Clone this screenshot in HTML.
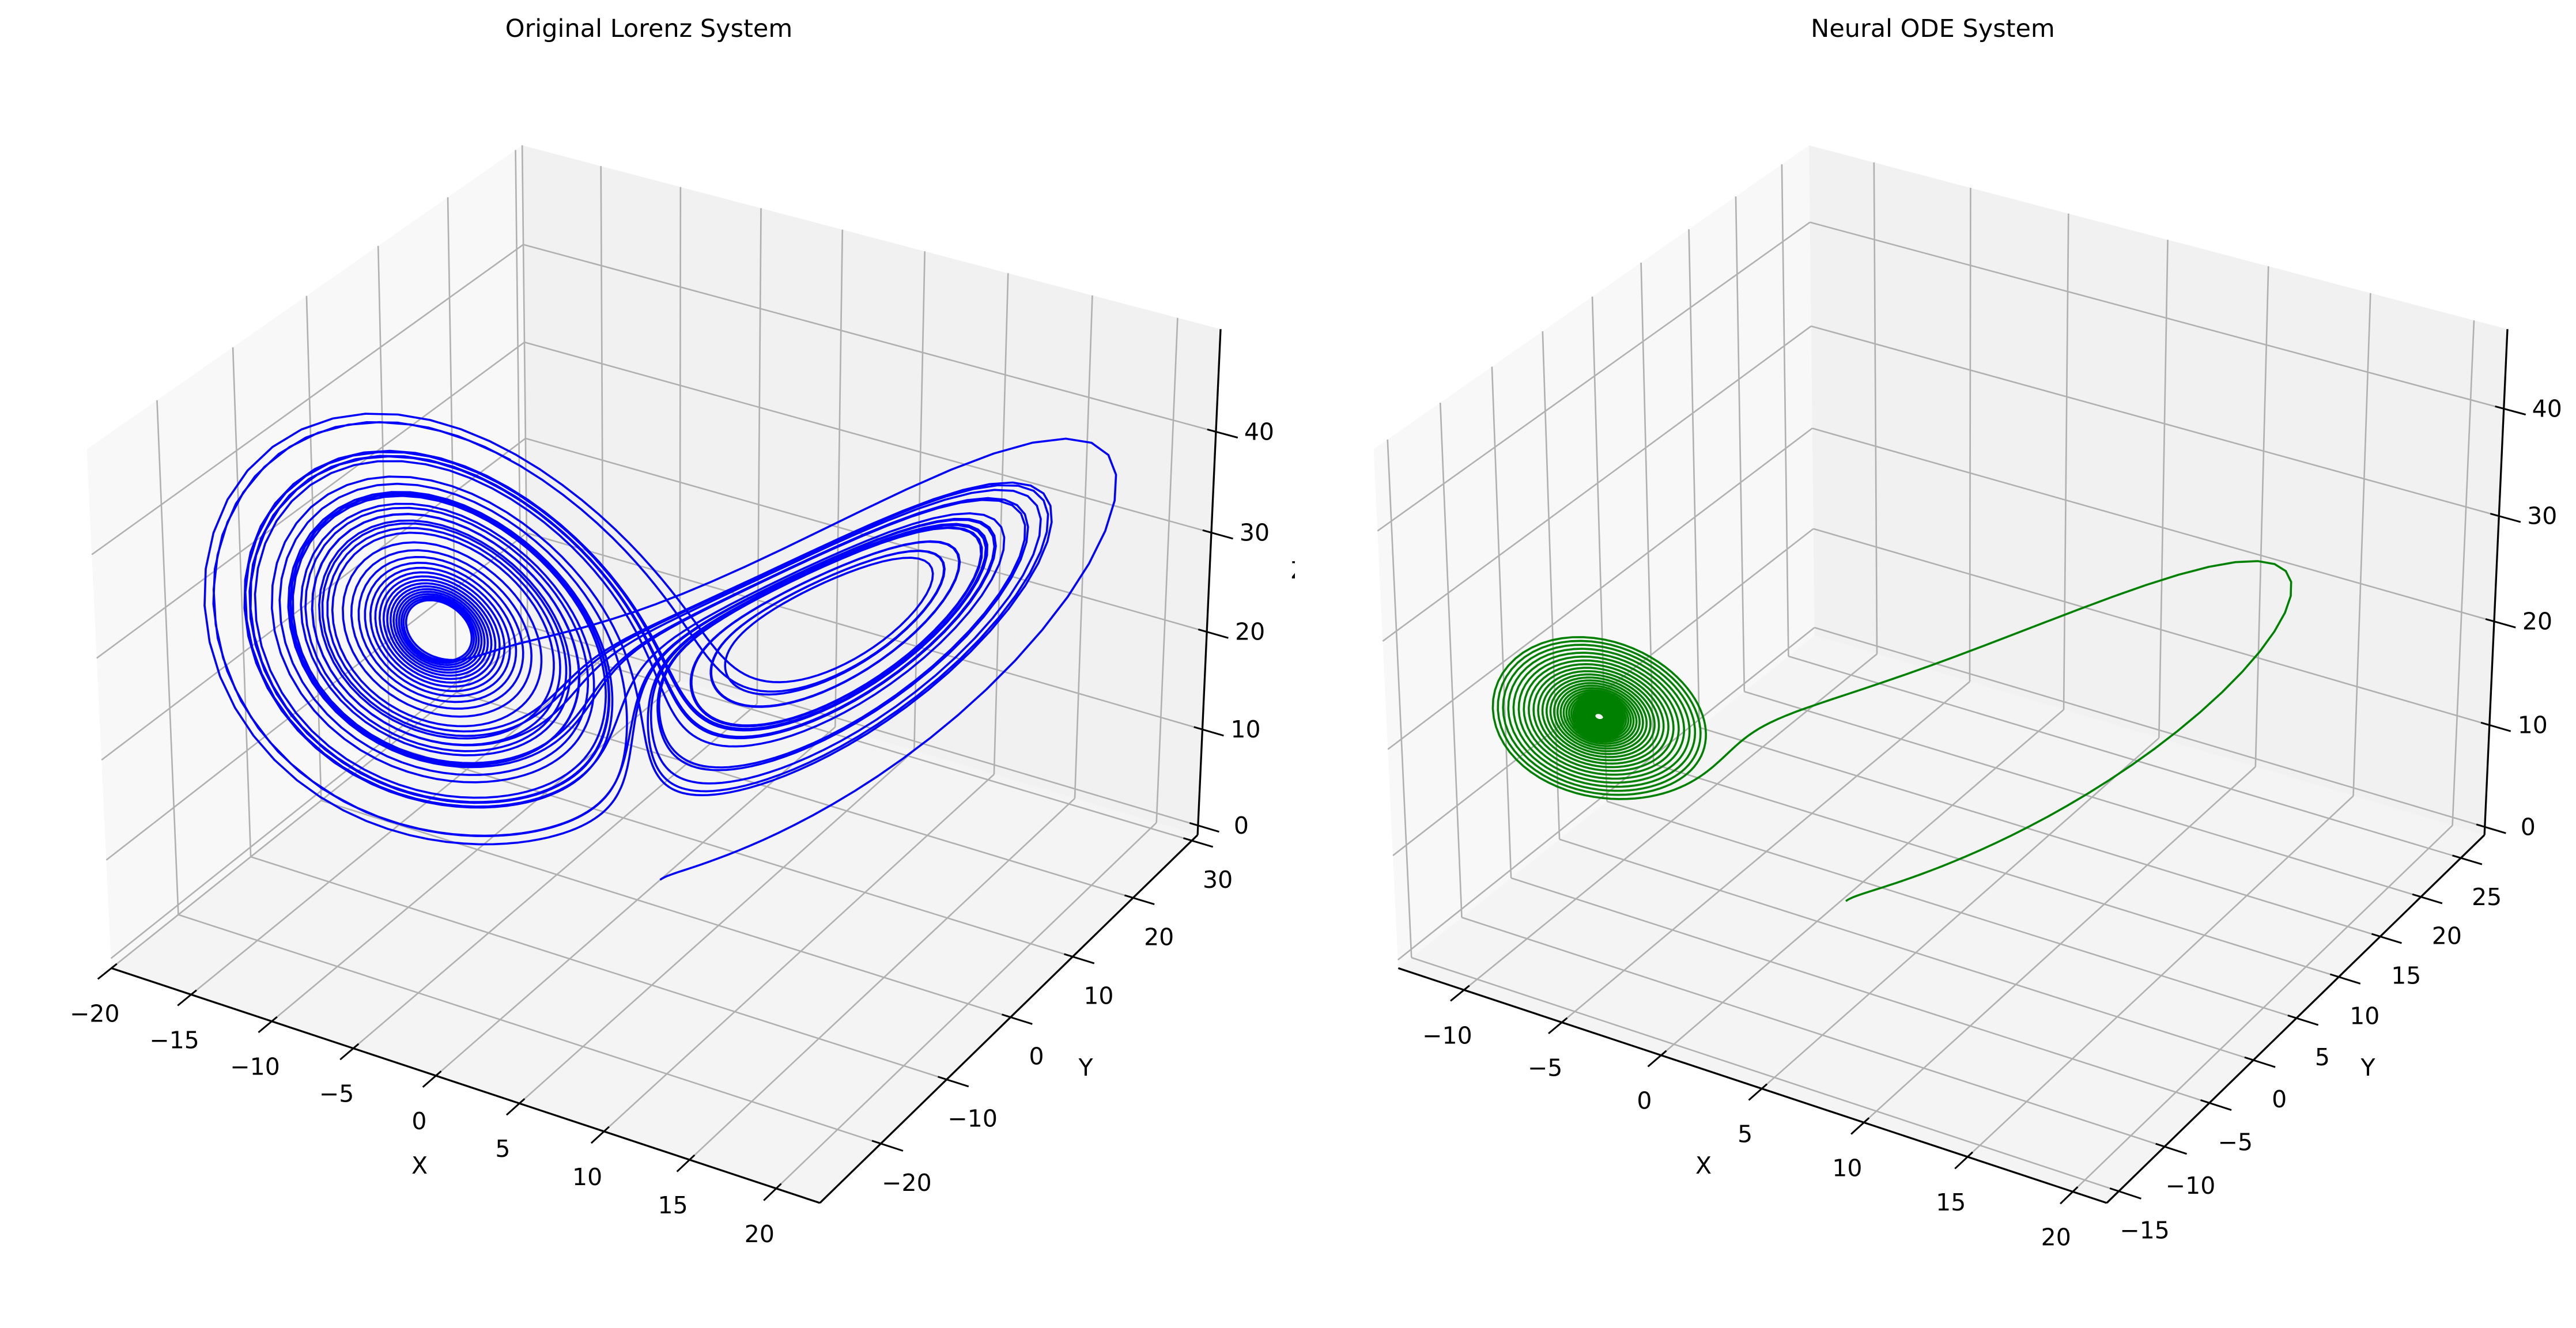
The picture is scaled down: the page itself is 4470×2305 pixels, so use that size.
<!DOCTYPE html>
<html><head><meta charset="utf-8">
<style>
html,body{margin:0;padding:0;background:#fff;}
svg{display:block;font-family:"DejaVu Sans","Liberation Sans",sans-serif;}
</style></head>
<body>
<svg id="fig" width="4470" height="2305" viewBox="0 0 4470 2305" xmlns="http://www.w3.org/2000/svg">
<rect x="0" y="0" width="4470" height="2305" fill="#fff"/>
<g id="left"></g>
<rect x="2247" y="0" width="30" height="2305" fill="#fff"/>
<g id="right"></g>
</svg>
<script>
// ---- data ----
const lorenzParams = [10, 28, 8/3];        // sigma, rho, beta
const lorenzInit = [1, 1, 1];
const lorenzTime = [0, 40];
const neuralParams = [10, 21, 8/3];
const neuralInit = [1, 1, 1];
const neuralTime = [0, 30];
const leftXTicks = [-20,-15,-10,-5,0,5,10,15,20];
const leftYTicks = [-20,-10,0,10,20,30];
const leftZTicks = [0,10,20,30,40];
const rightXTicks = [-10,-5,0,5,10,15,20];
const rightYTicks = [-15,-10,-5,0,5,10,15,20,25];
const rightZTicks = [0,10,20,30,40];
const leftLims = [[-20,22.5],[-29,31],[-1,50]];
const rightLims = [[-13.4,21.6],[-16.3,28],[-0.8,47.3]];

const NS = "http://www.w3.org/2000/svg";
function integrate(p, init, span){
  const [s,r,b]=p; const dt=0.01; let st=init.slice(); const out=[st.slice()];
  const f=(v)=>[s*(v[1]-v[0]), v[0]*(r-v[2])-v[1], v[0]*v[1]-b*v[2]];
  const n=Math.round((span[1]-span[0])/dt);
  for(let i=0;i<n;i++){
    const k1=f(st);
    const k2=f(st.map((v,j)=>v+dt/2*k1[j]));
    const k3=f(st.map((v,j)=>v+dt/2*k2[j]));
    const k4=f(st.map((v,j)=>v+dt*k3[j]));
    st=st.map((v,j)=>v+dt/6*(k1[j]+2*k2[j]+2*k3[j]+k4[j]));
    out.push(st.slice());
  }
  return out;
}
function rawProj(u,v,w){
  const bx=1.143,by=1.143,bz=0.857,D=10;
  const a=-60*Math.PI/180,e=30*Math.PI/180;
  const X=(u-0.5)*bx,Y=(v-0.5)*by,Z=(w-0.5)*bz;
  const ps=[Math.cos(e)*Math.cos(a),Math.cos(e)*Math.sin(a),Math.sin(e)];
  const rt=[-Math.sin(a),Math.cos(a),0];
  const up=[-Math.sin(e)*Math.cos(a),-Math.sin(e)*Math.sin(a),Math.cos(e)];
  const depth=D-(X*ps[0]+Y*ps[1]+Z*ps[2]);
  return [(X*rt[0]+Y*rt[1]+Z*rt[2])/depth,(X*up[0]+Y*up[1]+Z*up[2])/depth];
}
function solve3(M,b){
  const A=M.map((r,i)=>r.concat([b[i]]));
  for(let i=0;i<3;i++){let p=i;for(let k=i+1;k<3;k++)if(Math.abs(A[k][i])>Math.abs(A[p][i]))p=k;[A[i],A[p]]=[A[p],A[i]];
    for(let k=0;k<3;k++)if(k!==i){const f=A[k][i]/A[i][i];for(let j=i;j<4;j++)A[k][j]-=f*A[i][j];}}
  return [A[0][3]/A[0][0],A[1][3]/A[1][1],A[2][3]/A[2][2]];
}
function makeAxes(gid, dx, lims, xt, yt, zt, series, color, title, titleX, xlabPos, ylabPos, zlabPos){
  const corners=[[0,1,1,906,258],[0,0,1,150,788],[0,0,0,193,1669],[1,0,0,1426,2085],[1,1,0,2073,1469],[1,1,1,2121,552]];
  const M=[[0,0,0],[0,0,0],[0,0,0]],bx=[0,0,0],by=[0,0,0];
  corners.forEach(c=>{const s=rawProj(c[0],c[1],c[2]);const r=[s[0],s[1],1];
    for(let i=0;i<3;i++){for(let j=0;j<3;j++)M[i][j]+=r[i]*r[j];bx[i]+=r[i]*(c[3]+dx);by[i]+=r[i]*c[4];}});
  const cx=solve3(M,bx),cy=solve3(M,by);
  const nrm=(v,k)=>(v-lims[k][0])/(lims[k][1]-lims[k][0]);
  const P=(x,y,z)=>{const s=rawProj(nrm(x,0),nrm(y,1),nrm(z,2));return [cx[0]*s[0]+cx[1]*s[1]+cx[2],cy[0]*s[0]+cy[1]*s[1]+cy[2]];};
  const g=document.getElementById(gid);
  const [X0,X1]=lims[0],[Y0,Y1]=lims[1],[Z0,Z1]=lims[2];
  const f=p=>p[0].toFixed(1)+","+p[1].toFixed(1);
  function poly(pts,fill,name){const el=document.createElementNS(NS,"polygon");el.setAttribute("points",pts.map(p=>f(P(...p))).join(" "));el.setAttribute("fill",fill);
    
    
    g.appendChild(el);}
  function line(a,b,col,w,name){const el=document.createElementNS(NS,"line");const p=P(...a),q=P(...b);
    el.setAttribute("x1",p[0]);el.setAttribute("y1",p[1]);el.setAttribute("x2",q[0]);el.setAttribute("y2",q[1]);el.setAttribute("stroke",col);el.setAttribute("stroke-width",w);
    
    
    g.appendChild(el);}
  function text(x,y,s,name,anchor){const el=document.createElementNS(NS,"text");el.setAttribute("x",x);el.setAttribute("y",y);el.setAttribute("font-size","41");
    el.setAttribute("text-anchor",anchor||"middle");el.setAttribute("dominant-baseline","central");el.textContent=s;
    
    
    g.appendChild(el);}
  poly([[X0,Y0,Z0],[X0,Y1,Z0],[X0,Y1,Z1],[X0,Y0,Z1]],"#f8f8f8","x-pane");
  poly([[X0,Y1,Z0],[X1,Y1,Z0],[X1,Y1,Z1],[X0,Y1,Z1]],"#f1f1f1","y-pane");
  poly([[X0,Y0,Z0],[X1,Y0,Z0],[X1,Y1,Z0],[X0,Y1,Z0]],"#f4f4f4","z-pane");
  const gc="#b0b0b0",gw=2.6;
  xt.forEach(x=>{line([x,Y0,Z0],[x,Y1,Z0],gc,gw,"x-grid-floor");line([x,Y1,Z0],[x,Y1,Z1],gc,gw,"x-grid-wall");});
  yt.forEach(y=>{line([X0,y,Z0],[X1,y,Z0],gc,gw,"y-grid-floor");line([X0,y,Z0],[X0,y,Z1],gc,gw,"y-grid-wall");});
  zt.forEach(z=>{line([X0,Y0,z],[X0,Y1,z],gc,gw,"z-grid-left");line([X0,Y1,z],[X1,Y1,z],gc,gw,"z-grid-back");});
  const path=document.createElementNS(NS,"path");
  path.setAttribute("d",series.map((s,i)=>(i?"L":"M")+f(P(s[0],s[1],s[2]))).join(""));
  path.setAttribute("fill","none");path.setAttribute("stroke",color);path.setAttribute("stroke-width","3.6");path.setAttribute("stroke-linejoin","round");
  
  
  g.appendChild(path);
  line([X0,Y0,Z0],[X1,Y0,Z0],"#000",3.3,"x-axis-line");
  line([X1,Y0,Z0],[X1,Y1,Z0],"#000",3.3,"y-axis-line");
  line([X1,Y1,Z0],[X1,Y1,Z1],"#000",3.3,"z-axis-line");
  const dX=X1-X0,dY=Y1-Y0;
  xt.forEach(x=>{line([x,Y0+0.012*dY,Z0],[x,Y0-0.03*dY,Z0],"#000",3,"x-tick");const p=P(x,Y0,Z0);text(p[0]-29,p[1]+79,String(x).replace("-","\u2212"),"x-tick-label");});
  yt.forEach(y=>{line([X1-0.012*dX,y,Z0],[X1+0.03*dX,y,Z0],"#000",3,"y-tick");const p=P(X1,y,Z0);text(p[0]+45,p[1]+68,String(y).replace("-","\u2212"),"y-tick-label");});
  zt.forEach(z=>{line([X1-0.012*dX,Y1,z],[X1+0.03*dX,Y1,z],"#000",3,"z-tick");const p=P(X1,Y1,z);text(p[0]+75,p[1],String(z),"z-tick-label");});
  text(xlabPos[0],xlabPos[1],"X","x-axis-title");
  text(ylabPos[0],ylabPos[1],"Y","y-axis-title");
  if(zlabPos) text(zlabPos[0],zlabPos[1],"Z","z-axis-title");
  const t=document.createElementNS(NS,"text");t.setAttribute("x",titleX);t.setAttribute("y",50);t.setAttribute("font-size","43");
  t.setAttribute("text-anchor","middle");t.setAttribute("dominant-baseline","central");t.textContent=title;
  
  
  g.appendChild(t);
}
const lorenzData=integrate(lorenzParams,lorenzInit,lorenzTime);
const neuralData=integrate(neuralParams,neuralInit,neuralTime);
makeAxes("left",0,leftLims,leftXTicks,leftYTicks,leftZTicks,lorenzData,"#0000ff","Original Lorenz System",1126,[728,2023],[1884,1853],[2254,990]);
makeAxes("right",2233,rightLims,rightXTicks,rightYTicks,rightZTicks,neuralData,"#008000","Neural ODE System",3354,[2956,2023],[4109,1853],null);
</script>
</body></html>
